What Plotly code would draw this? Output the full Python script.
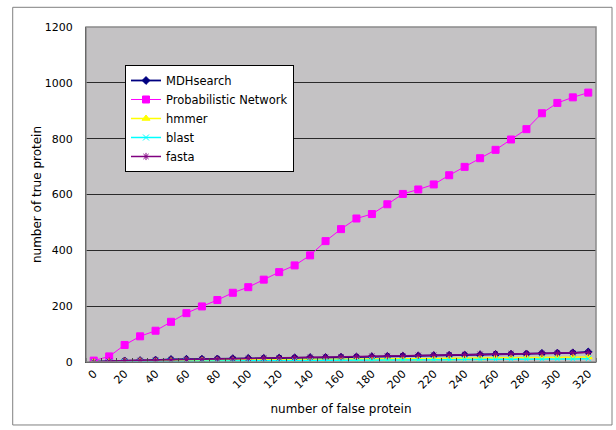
import plotly.graph_objects as go

# false-protein counts (x) and true-protein counts per method (y)
false_protein = [0, 10, 20, 30, 40, 50, 60, 70, 80, 90, 100, 110, 120, 130, 140, 150,
                 160, 170, 180, 190, 200, 210, 220, 230, 240, 250, 260, 270, 280, 290,
                 300, 310, 320]

mdhsearch = [1, 2, 4, 5, 7, 9, 10, 10, 11, 12, 13, 13, 14, 15, 16, 16, 17, 18, 19, 20,
             21, 22, 23, 24, 25, 26, 27, 28, 29, 31, 32, 33, 36]
prob_network = [5, 20, 61, 92, 112, 144, 175, 199, 222, 248, 268, 295, 322, 346, 382,
                433, 476, 514, 530, 565, 602, 618, 636, 669, 699, 730, 760, 797, 834,
                891, 928, 948, 965]
hmmer = [0, 1, 2, 3, 4, 4, 5, 5, 6, 6, 7, 7, 8, 8, 9, 9, 10, 10, 11, 11, 12, 12, 13,
         13, 14, 14, 15, 15, 16, 16, 17, 17, 18]
blast = [0, 0, 1, 1, 2, 2, 3, 3, 3, 4, 4, 4, 5, 5, 5, 6, 6, 6, 7, 7, 7, 8, 8, 8, 9, 9,
         9, 10, 10, 10, 11, 11, 12]
fasta = [0, 3, 5, 6, 7, 8, 9, 10, 11, 12, 13, 14, 15, 16, 17, 18, 19, 20, 21, 22, 23,
         24, 25, 26, 27, 28, 29, 30, 30, 31, 32, 33, 34]

x_ticks = list(range(0, 321, 20))
y_ticks = [0, 200, 400, 600, 800, 1000, 1200]

font_family = "DejaVu Sans, Verdana, sans-serif"

fig = go.Figure()

series = [
    ("MDHsearch", mdhsearch, "#000080", "diamond", 6, 1.8),
    ("Probabilistic Network", prob_network, "#FF00FF", "square", 7, 1),
    ("hmmer", hmmer, "#FFFF00", "triangle-up", 7, 1.5),
    ("blast", blast, "#00FFFF", "x-thin-open", 6, 1.5),
    ("fasta", fasta, "#800080", "asterisk-open", 6, 1.5),
]

for name, vals, color, symbol, size, width in series:
    fig.add_trace(go.Scatter(
        x=false_protein, y=vals, name=name, mode="lines+markers",
        line=dict(color=color, width=width),
        marker=dict(symbol=symbol, size=size, color=color,
                    line=dict(color=color, width=1)),
    ))

# outer chart frame
fig.add_shape(type="rect", xref="paper", yref="paper",
              x0=-0.1437, x1=1.0314, y0=-0.188, y1=1.0588,
              line=dict(color="#808080", width=1), layer="below")

fig.update_layout(
    width=616, height=430,
    margin=dict(l=86, r=20, t=27, b=68),
    paper_bgcolor="white",
    plot_bgcolor="#C4C2C4",
    font=dict(family=font_family, size=12, color="black"),
    showlegend=True,
    legend=dict(
        x=0.0765, y=0.8866, xanchor="left", yanchor="top",
        bgcolor="white", bordercolor="black", borderwidth=1,
        font=dict(family=font_family, size=11.5, color="black"),
        tracegroupgap=0, itemwidth=30,
    ),
    xaxis=dict(
        range=[-5, 325], tickvals=x_ticks, tickangle=-45,
        showgrid=False, zeroline=False,
        showline=True, linecolor="#000000", linewidth=1, mirror=False,
        ticks="", tickfont=dict(size=11),
        minor=dict(tick0=5, dtick=10, ticks="inside", ticklen=4,
                   tickcolor="#444444", showgrid=False),
        title=dict(text="number of false protein", font=dict(size=12), standoff=14),
    ),
    yaxis=dict(
        range=[0, 1200], tickvals=y_ticks,
        showgrid=True, gridcolor="#2A2A2A", gridwidth=1.2,
        zeroline=False, showline=True, linecolor="#000000", linewidth=1,
        ticks="", ticklabelstandoff=10, tickfont=dict(size=11),
        title=dict(text="number of true protein", font=dict(size=12), standoff=0),
    ),
)

# plot-area frame
fig.add_shape(type="rect", xref="paper", yref="paper", x0=0, x1=1, y0=0, y1=1,
              line=dict(color="#8A8A8A", width=1.5), layer="above")

fig.write_html("out.html")
